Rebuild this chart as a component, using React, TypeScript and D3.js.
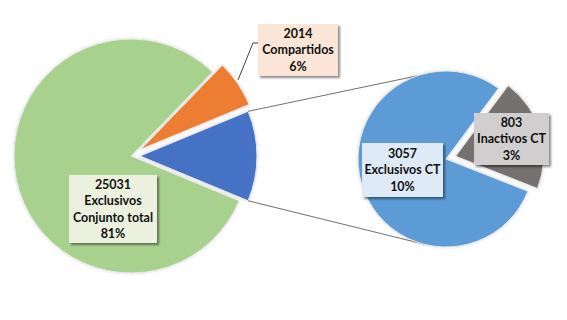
import React from "react";
import * as d3 from "d3";

const mainCategories = ["Exclusivos Conjunto total", "Compartidos", "Conjunto CT"];
const mainValues = [25031, 2014, 3860];
const subCategories = ["Exclusivos CT", "Inactivos CT"];
const subValues = [3057, 803];

const mainLabels = [
  ["25031", "Exclusivos", "Conjunto total", "81%"],
  ["2014", "Compartidos", "6%"],
];
const subLabels = [
  ["3057", "Exclusivos CT", "10%"],
  ["803", "Inactivos CT", "3%"],
];

const mainColors = ["#a9d18e", "#ed7d31", "#4472c4"];
const subColors = ["#5b9bd5", "#767171"];
const mainBoxFill = ["#ebf1de", "#fbe5d6"];
const subBoxFill = ["#deebf7", "#d0cece"];

const W = 567;
const H = 320;
const deg = Math.PI / 180;

export default function App() {
  const mainC = { x: 131, y: 156 };
  const mainR = 117;
  const subC = { x: 446, y: 159 };
  const subR = 88;
  const mainExplode = [0, 12, 9];
  const subExplode = [0, 10];

  const mainPie = d3
    .pie<number>()
    .sort(null)
    .startAngle(112.5 * deg)
    .endAngle(112.5 * deg + 2 * Math.PI)(mainValues);
  const subPie = d3
    .pie<number>()
    .sort(null)
    .startAngle(111.5 * deg)
    .endAngle(111.5 * deg + 2 * Math.PI)(subValues);

  const mainArc = d3.arc<d3.PieArcDatum<number>>().innerRadius(0).outerRadius(mainR);
  const subArc = d3.arc<d3.PieArcDatum<number>>().innerRadius(0).outerRadius(subR);

  const off = (a: d3.PieArcDatum<number>, d: number) => {
    const m = (a.startAngle + a.endAngle) / 2;
    return { x: Math.sin(m) * d, y: -Math.cos(m) * d };
  };

  const blue = mainPie[2];
  const bo = off(blue, mainExplode[2]);
  const p1 = {
    x: mainC.x + bo.x + Math.sin(blue.startAngle) * mainR,
    y: mainC.y + bo.y - Math.cos(blue.startAngle) * mainR,
  };
  const p2 = {
    x: mainC.x + bo.x + Math.sin(blue.endAngle) * mainR,
    y: mainC.y + bo.y - Math.cos(blue.endAngle) * mainR,
  };
  const q1 = { x: subC.x + Math.sin(-19 * deg) * subR, y: subC.y - Math.cos(-19 * deg) * subR };
  const q2 = { x: subC.x + Math.sin(192.5 * deg) * subR, y: subC.y - Math.cos(192.5 * deg) * subR };

  const font = "Lato, 'Open Sans', sans-serif";
  const fs = 12.5;
  const lh = 16.3;

  const Box = ({ x, y, w, h, fill, lines }: any) => (
    <g>
      <rect x={x} y={y} width={w} height={h} fill={fill} filter="url(#boxShadow)" />
      {lines.map((t: string, i: number) => (
        <text
          key={i}
          x={x + w / 2}
          y={y + h / 2 + (i - (lines.length - 1) / 2) * lh}
          dy="0.35em"
          textAnchor="middle"
          fontFamily={font}
          fontWeight={700}
          fontSize={fs}
          fill="#111"
        >
          {t}
        </text>
      ))}
    </g>
  );

  return (
    <svg
      width={W}
      height={H}
      style={{ position: "absolute", left: 0, top: 0, background: "#fff" }}
    >
      <defs>
        <filter id="sliceShadow" x="-20%" y="-20%" width="140%" height="140%">
          <feDropShadow dx="0" dy="0" stdDeviation="1.6" floodColor="#000" floodOpacity="0.18" />
        </filter>
        <filter id="boxShadow" x="-20%" y="-20%" width="140%" height="140%">
          <feDropShadow dx="2" dy="2" stdDeviation="1" floodColor="#000" floodOpacity="0.45" />
        </filter>
      </defs>

      <g>
        {mainPie.map((a, i) => {
          const o = off(a, mainExplode[i]);
          return (
            <path
              key={mainCategories[i]}
              d={mainArc(a) as string}
              transform={`translate(${mainC.x + o.x},${mainC.y + o.y})`}
              fill={mainColors[i]}
              stroke="#e8e8e8"
              strokeWidth={1}
              filter="url(#sliceShadow)"
            />
          );
        })}
      </g>

      <line x1={p1.x} y1={p1.y} x2={q1.x} y2={q1.y} stroke="#6f6f6f" strokeWidth={1} />
      <line x1={p2.x} y1={p2.y} x2={q2.x} y2={q2.y} stroke="#6f6f6f" strokeWidth={1} />

      <g>
        {subPie.map((a, i) => {
          const o = off(a, subExplode[i]);
          return (
            <path
              key={subCategories[i]}
              d={subArc(a) as string}
              transform={`translate(${subC.x + o.x},${subC.y + o.y})`}
              fill={subColors[i]}
              stroke="#e8e8e8"
              strokeWidth={1}
              filter="url(#sliceShadow)"
            />
          );
        })}
      </g>

      <polyline points="238,80 253,43 258,43" fill="none" stroke="#404040" strokeWidth={1} />

      <Box x={69} y={175} w={88} h={68} fill={mainBoxFill[0]} lines={mainLabels[0]} />
      <Box x={258} y={24} w={80} h={52} fill={mainBoxFill[1]} lines={mainLabels[1]} />
      <Box x={362} y={143} w={81} h={54} fill={subBoxFill[0]} lines={subLabels[0]} />
      <Box x={474} y={113} w={75} h={52} fill={subBoxFill[1]} lines={subLabels[1]} />
    </svg>
  );
}
